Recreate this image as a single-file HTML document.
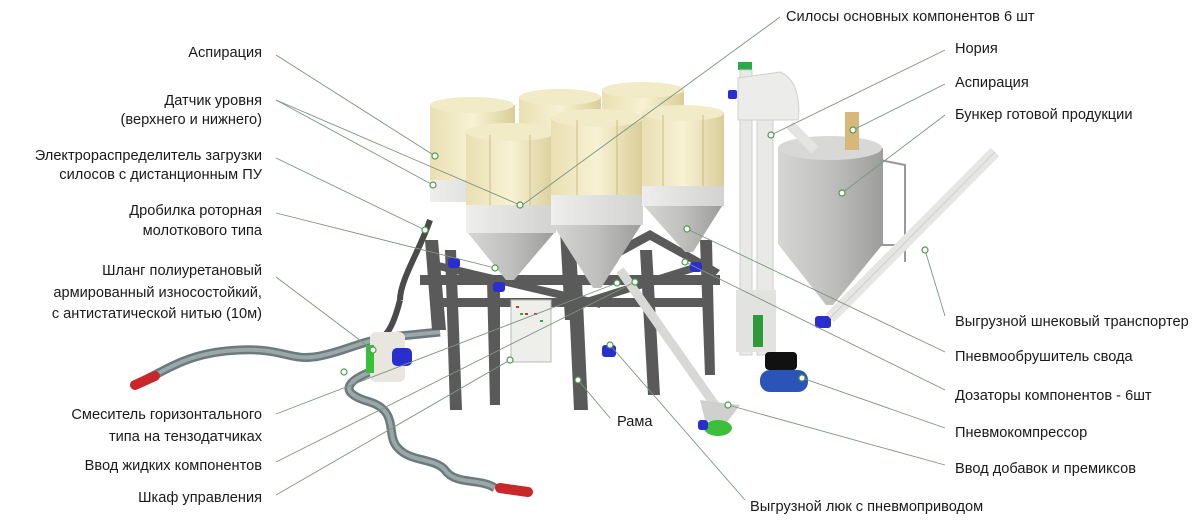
<!DOCTYPE html>
<html><head><meta charset="utf-8"><style>
html,body{margin:0;padding:0;background:#fff}
svg{display:block}
text{font-family:"Liberation Sans",sans-serif;font-size:14.6px;fill:#1a1a1a}
.l{stroke:#7d9480;stroke-width:0.9;fill:none}
.d{fill:#fff;stroke:#4c9a4c;stroke-width:1.2}
</style></head><body>
<svg width="1193" height="523" viewBox="0 0 1193 523">
<defs>
<linearGradient id="cr" x1="0" x2="1"><stop offset="0" stop-color="#e9dfb2"/><stop offset=".5" stop-color="#f8f2d4"/><stop offset="1" stop-color="#d9cd98"/></linearGradient>
<linearGradient id="gr" x1="0" x2="1"><stop offset="0" stop-color="#d6d6d4"/><stop offset=".5" stop-color="#bfbfbd"/><stop offset="1" stop-color="#9d9d9b"/></linearGradient>
<linearGradient id="wh" x1="0" x2="1"><stop offset="0" stop-color="#eeeeec"/><stop offset="1" stop-color="#d2d2d0"/></linearGradient>
</defs>

<!-- hoses -->
<path d="M145,380 C170,368 190,352 240,350 C285,348 290,362 320,356 C350,350 360,340 400,336 L440,332" stroke="#6b7a7c" stroke-width="9" fill="none"/>
<path d="M145,380 C170,368 190,352 240,350 C285,348 290,362 320,356 C350,350 360,340 400,336 L440,332" stroke="#9aa8aa" stroke-width="4" fill="none"/>
<path d="M370,372 C350,380 335,392 370,402 C400,412 385,435 398,448 C410,462 435,458 445,470 C455,485 480,478 495,488" stroke="#6b7a7c" stroke-width="9" fill="none"/>
<path d="M370,372 C350,380 335,392 370,402 C400,412 385,435 398,448 C410,462 435,458 445,470 C455,485 480,478 495,488" stroke="#9aa8aa" stroke-width="4" fill="none"/>
<path d="M135,385 L155,376" stroke="#c8282a" stroke-width="10" stroke-linecap="round"/>
<path d="M500,488 L528,492" stroke="#c8282a" stroke-width="10" stroke-linecap="round"/>
<path d="M400,300 C400,280 420,250 430,220" stroke="#4a4a4a" stroke-width="6" fill="none"/>
<path d="M400,300 C395,320 390,330 385,335" stroke="#4a4a4a" stroke-width="6" fill="none"/>

<!-- crusher -->
<rect x="370" y="332" width="35" height="50" rx="6" fill="#e8e6df"/>
<rect x="366" y="345" width="8" height="28" fill="#38c038"/>
<rect x="392" y="348" width="20" height="18" rx="5" fill="#2a2ed0"/>

<!-- frame -->
<g fill="#5a5a5a">
<polygon points="425,240 438,240 446,330 432,330"/>
<polygon points="445,250 456,250 462,410 450,410"/>
<polygon points="487,280 500,280 500,405 490,405"/>
<polygon points="568,280 582,280 588,410 574,410"/>
<polygon points="640,250 652,250 660,395 648,395"/>
<polygon points="700,240 712,240 715,375 705,375"/>
<polygon points="560,230 575,230 580,320 565,320"/>
<rect x="420" y="275" width="300" height="10"/>
<rect x="440" y="298" width="270" height="9"/>
<polygon points="430,260 600,300 600,308 430,268"/>
<polygon points="580,300 700,262 700,270 580,308"/>
<polygon points="590,262 650,230 720,270 715,276 650,240 595,270"/>
</g>
<!-- control cabinet -->
<rect x="511" y="300" width="40" height="62" fill="#eeeeea" stroke="#bbb"/>
<g fill="#c33"><rect x="516" y="306" width="3" height="2"/><rect x="525" y="313" width="3" height="2"/><rect x="534" y="313" width="3" height="2"/></g>
<g fill="#3a3"><rect x="520" y="313" width="3" height="2"/><rect x="540" y="320" width="3" height="2"/></g>
<!-- motors -->
<g fill="#2a2ed0">
<rect x="448" y="258" width="12" height="10" rx="3"/><rect x="493" y="282" width="12" height="10" rx="3"/>
<rect x="602" y="345" width="14" height="12" rx="3"/><rect x="690" y="262" width="12" height="10" rx="3"/>
<rect x="815" y="316" width="16" height="12" rx="3"/><rect x="728" y="90" width="9" height="9" rx="2"/>
</g>

<!-- silos back row -->
<g>
<rect x="430" y="105" width="85" height="80" fill="url(#cr)"/><ellipse cx="472" cy="105" rx="42" ry="8" fill="#f2ebc8"/>
<rect x="430" y="180" width="85" height="22" fill="url(#wh)"/>
<rect x="519" y="97" width="82" height="80" fill="url(#cr)"/><ellipse cx="560" cy="97" rx="41" ry="8" fill="#f2ebc8"/>
<rect x="602" y="90" width="82" height="80" fill="url(#cr)"/><ellipse cx="643" cy="90" rx="41" ry="8" fill="#f2ebc8"/>
</g>
<!-- front silos -->
<g>
<rect x="466" y="132" width="90" height="78" fill="url(#cr)"/><ellipse cx="511" cy="132" rx="45" ry="9" fill="#f2ebc8"/>
<rect x="466" y="205" width="90" height="28" fill="url(#wh)"/>
<polygon points="468,233 554,233 514,280 506,280" fill="url(#gr)"/>
<rect x="551" y="118" width="92" height="80" fill="url(#cr)"/><ellipse cx="597" cy="118" rx="46" ry="9" fill="#f2ebc8"/>
<rect x="551" y="195" width="92" height="30" fill="url(#wh)"/>
<polygon points="553,225 641,225 601,288 593,288" fill="url(#gr)"/>
<rect x="642" y="113" width="82" height="78" fill="url(#cr)"/><ellipse cx="683" cy="113" rx="41" ry="8" fill="#f2ebc8"/>
<rect x="642" y="186" width="82" height="20" fill="url(#wh)"/>
<polygon points="644,206 722,206 693,252 685,252" fill="url(#gr)"/>
</g>
<g stroke="#c9bc85" stroke-width="1">
<line x1="490" y1="135" x2="490" y2="205"/><line x1="530" y1="135" x2="530" y2="205"/>
<line x1="577" y1="120" x2="577" y2="195"/><line x1="617" y1="120" x2="617" y2="195"/>
<line x1="663" y1="115" x2="663" y2="186"/><line x1="703" y1="115" x2="703" y2="186"/>
</g>

<!-- elevator -->
<rect x="738" y="62" width="14" height="8" fill="#2fa84a"/>
<rect x="740" y="70" width="12" height="285" fill="#e9e9e7" stroke="#cfcfcf"/>
<rect x="757" y="80" width="16" height="275" fill="#e9e9e7" stroke="#cfcfcf"/>
<path d="M738,78 L780,72 C800,80 800,110 798,120 L738,120 Z" fill="#ececea" stroke="#d0d0d0"/>
<rect x="736" y="290" width="40" height="62" fill="#e2e2e0"/>
<rect x="753" y="315" width="10" height="32" fill="#2f9a3a"/>
<!-- hopper -->
<rect x="778" y="148" width="105" height="96" fill="url(#gr)"/>
<ellipse cx="830" cy="148" rx="52" ry="12" fill="#d8d8d6"/>
<polygon points="778,244 883,244 833,305 826,305" fill="url(#gr)"/>
<rect x="845" y="112" width="14" height="38" fill="#d8b77a"/>
<path d="M790,125 L815,150" stroke="#e4e4e2" stroke-width="10"/>
<path d="M880,160 L905,165 L905,262 M880,245 L905,245" stroke="#999" stroke-width="2" fill="none"/>
<!-- screw conveyor -->
<path d="M830,318 L995,152" stroke="#e6e6e4" stroke-width="12"/>
<path d="M830,318 L995,152" stroke="#cfcfcf" stroke-width="1"/>
<!-- incline conveyor -->
<path d="M620,270 L715,405" stroke="#d8d8d6" stroke-width="9"/>
<polygon points="700,400 740,405 725,425 705,420" fill="#d0d0ce"/>
<ellipse cx="718" cy="428" rx="14" ry="8" fill="#3cc03c"/>
<rect x="698" y="420" width="10" height="10" rx="3" fill="#2a2ed0"/>
<!-- compressor -->
<rect x="765" y="352" width="32" height="18" rx="4" fill="#111"/>
<rect x="760" y="370" width="48" height="22" rx="10" fill="#2a54b8"/>

<!-- leader lines -->
<g class="l">
<line x1="276" y1="55" x2="435" y2="156"/>
<line x1="276" y1="100" x2="433" y2="185"/><line x1="276" y1="100" x2="520" y2="205"/>
<line x1="276" y1="158" x2="425" y2="230"/>
<line x1="276" y1="213" x2="495" y2="268"/>
<line x1="276" y1="277" x2="373" y2="350"/>
<line x1="276" y1="414" x2="617" y2="283"/>
<line x1="276" y1="462" x2="635" y2="282"/>
<line x1="276" y1="495" x2="510" y2="360"/>
<line x1="780" y1="17" x2="521" y2="206"/>
<line x1="945" y1="50" x2="771" y2="135"/>
<line x1="945" y1="84" x2="853" y2="130"/>
<line x1="945" y1="115" x2="842" y2="193"/>
<line x1="945" y1="316" x2="925" y2="250"/>
<line x1="945" y1="352" x2="687" y2="229"/>
<line x1="945" y1="390" x2="685" y2="262"/>
<line x1="945" y1="428" x2="802" y2="378"/>
<line x1="945" y1="465" x2="728" y2="405"/>
<line x1="610" y1="418" x2="578" y2="380"/>
<line x1="745" y1="500" x2="610" y2="345"/>
</g>
<g class="d">
<circle cx="435" cy="156" r="3"/><circle cx="433" cy="185" r="3"/><circle cx="520" cy="205" r="3"/>
<circle cx="425" cy="230" r="3"/><circle cx="495" cy="268" r="3"/><circle cx="373" cy="350" r="3"/>
<circle cx="617" cy="283" r="3"/><circle cx="635" cy="282" r="3"/><circle cx="510" cy="360" r="3"/>
<circle cx="771" cy="135" r="3"/><circle cx="853" cy="130" r="3"/><circle cx="842" cy="193" r="3"/>
<circle cx="925" cy="250" r="3"/><circle cx="687" cy="229" r="3"/><circle cx="685" cy="262" r="3"/>
<circle cx="802" cy="378" r="3"/><circle cx="728" cy="405" r="3"/><circle cx="578" cy="380" r="3"/>
<circle cx="610" cy="345" r="3"/><circle cx="344" cy="372" r="3"/>
</g>

<!-- labels -->
<g text-anchor="end">
<text x="262" y="57">Аспирация</text>
<text x="262" y="105">Датчик уровня</text>
<text x="262" y="124">(верхнего и нижнего)</text>
<text x="262" y="160">Электрораспределитель загрузки</text>
<text x="262" y="179">силосов с дистанционным ПУ</text>
<text x="262" y="215">Дробилка роторная</text>
<text x="262" y="235">молоткового типа</text>
<text x="262" y="275">Шланг полиуретановый</text>
<text x="262" y="297">армированный износостойкий,</text>
<text x="262" y="318">с антистатической нитью (10м)</text>
<text x="262" y="419">Смеситель горизонтального</text>
<text x="262" y="441">типа на тензодатчиках</text>
<text x="262" y="470">Ввод жидких компонентов</text>
<text x="262" y="502">Шкаф управления</text>
</g>
<text x="786" y="21">Силосы основных компонентов 6 шт</text>
<text x="955" y="53">Нория</text>
<text x="955" y="87">Аспирация</text>
<text x="955" y="119">Бункер готовой продукции</text>
<text x="955" y="326">Выгрузной шнековый транспортер</text>
<text x="955" y="361">Пневмообрушитель свода</text>
<text x="955" y="400">Дозаторы компонентов - 6шт</text>
<text x="955" y="437">Пневмокомпрессор</text>
<text x="955" y="473">Ввод добавок и премиксов</text>
<text x="617" y="426">Рама</text>
<text x="750" y="511">Выгрузной люк с пневмоприводом</text>
</svg>
</body></html>
